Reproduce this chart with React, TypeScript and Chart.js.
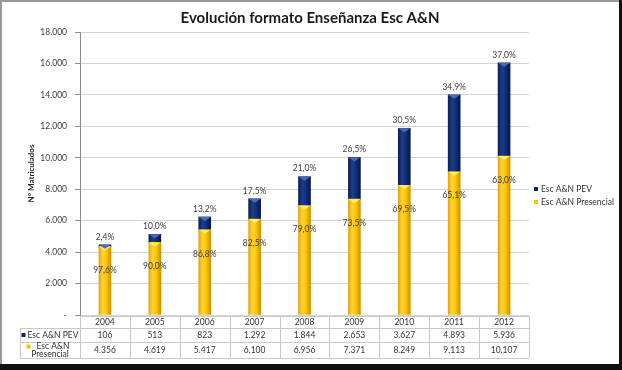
import React, { useEffect, useRef } from "react";
import { Chart, registerables } from "chart.js";

Chart.register(...registerables);

const chartTitle = "Evolución formato Enseñanza Esc A&N";
const yAxisTitle = "N° Matriculados";
const years = ["2004", "2005", "2006", "2007", "2008", "2009", "2010", "2011", "2012"];
const pevName = "Esc A&N PEV";
const presencialName = "Esc A&N Presencial";
const presencialTableLines = ["Esc A&N", "Presencial"];
const pevValues = [106, 513, 823, 1292, 1844, 2653, 3627, 4893, 5936];
const presencialValues = [4356, 4619, 5417, 6100, 6956, 7371, 8249, 9113, 10107];
const yMax = 18000;
const yStep = 2000;

const FONT = "Lato, 'Open Sans', sans-serif";

const fmt = (n: number) => String(n).replace(/\B(?=(\d{3})+(?!\d))/g, ".");
const pct = (v: number, total: number) => (v / total * 100).toFixed(1).replace(".", ",") + "%";

const YELLOW = "#F5C400";
const NAVY = "#0D2463";

function gradFor(kind: "y" | "n") {
  return (c: any) => {
    const chart = c.chart;
    const solid = kind === "y" ? YELLOW : NAVY;
    const xs = chart.scales && chart.scales.x;
    if (!xs || c.dataIndex === undefined || c.type !== "data") return solid;
    const x = xs.getPixelForValue(c.dataIndex);
    if (!Number.isFinite(x)) return solid;
    const g = chart.ctx.createLinearGradient(x - 6, 0, x + 6, 0);
    if (kind === "y") {
      g.addColorStop(0, "#E2A800");
      g.addColorStop(0.3, "#FFD23A");
      g.addColorStop(0.6, "#FFC800");
      g.addColorStop(1, "#C89200");
    } else {
      g.addColorStop(0, "#0A2060");
      g.addColorStop(0.35, "#1E3E88");
      g.addColorStop(0.65, "#112D74");
      g.addColorStop(1, "#06184A");
    }
    return g;
  };
}

const decorPlugin = {
  id: "decor",
  beforeDraw(chart: any) {
    const { ctx, width, height } = chart;
    ctx.save();
    ctx.fillStyle = "#ffffff";
    ctx.fillRect(0, 0, width, height);
    ctx.fillStyle = "#9a9a9a";
    ctx.fillRect(0, 0, width, 2);
    ctx.fillRect(0, 0, 2, height);
    ctx.fillStyle = "#111111";
    ctx.fillRect(width - 3, 0, 3, height);
    ctx.fillRect(0, height - 6, width, 6);
    ctx.restore();
  },
  afterDatasetsDraw(chart: any) {
    const { ctx } = chart;
    const metaP = chart.getDatasetMeta(0);
    const metaV = chart.getDatasetMeta(1);
    ctx.save();
    [metaP, metaV].forEach((meta: any, di: number) => {
      meta.data.forEach((el: any) => {
        const w = el.width;
        ctx.fillStyle = di === 0 ? "#FFEE66" : "#4D6CB0";
        ctx.beginPath();
        ctx.moveTo(el.x - w / 2, el.y);
        ctx.lineTo(el.x + w / 2, el.y);
        ctx.lineTo(el.x, el.y + 4);
        ctx.closePath();
        ctx.fill();
      });
    });
    ctx.font = `8.5px ${FONT}`;
    ctx.fillStyle = "#404040";
    ctx.textAlign = "center";
    ctx.textBaseline = "middle";
    years.forEach((_, i) => {
      const total = pevValues[i] + presencialValues[i];
      const elV = metaV.data[i];
      const elP = metaP.data[i];
      ctx.fillText(pct(pevValues[i], total), elV.x, elV.y - 8);
      ctx.fillText(pct(presencialValues[i], total), elP.x, elP.y + 24);
    });
    ctx.restore();
  },
  afterDraw(chart: any) {
    const { ctx, chartArea } = chart;
    const xs = chart.scales.x;
    ctx.save();
    ctx.font = `bold 15px ${FONT}`;
    ctx.fillStyle = "#1a1a1a";
    ctx.textAlign = "center";
    ctx.textBaseline = "middle";
    ctx.fillText(chartTitle, 310, 18);

    ctx.font = `8.5px ${FONT}`;
    ctx.textAlign = "left";
    ctx.fillStyle = NAVY;
    ctx.fillRect(534, 187, 4, 4);
    ctx.fillStyle = YELLOW;
    ctx.fillRect(534, 200, 4, 4);
    ctx.fillStyle = "#333333";
    ctx.fillText(pevName, 541, 189);
    ctx.fillText(presencialName, 541, 202);

    const n = years.length;
    const cw = (chartArea.right - chartArea.left) / n;
    const left0 = 20;
    const r0 = chartArea.bottom + 1;
    const r1 = r0 + 12;
    const r2 = r1 + 14;
    const r3 = r2 + 16;
    ctx.strokeStyle = "#c8c8c8";
    ctx.lineWidth = 1;
    ctx.beginPath();
    ctx.moveTo(chartArea.left, r0 + 0.5);
    ctx.lineTo(chartArea.right, r0 + 0.5);
    [r1, r2, r3].forEach((r) => {
      ctx.moveTo(left0, r + 0.5);
      ctx.lineTo(chartArea.right, r + 0.5);
    });
    ctx.moveTo(left0 + 0.5, r1);
    ctx.lineTo(left0 + 0.5, r3);
    for (let i = 0; i <= n; i++) {
      const x = Math.round(xs.getPixelForValue(i) - cw / 2) + 0.5;
      ctx.moveTo(x, r0);
      ctx.lineTo(x, r3);
    }
    ctx.stroke();

    ctx.fillStyle = "#333333";
    ctx.textAlign = "center";
    ctx.font = `8.5px ${FONT}`;
    years.forEach((yr, i) => {
      const x = xs.getPixelForValue(i);
      ctx.fillText(yr, x, (r0 + r1) / 2 + 0.5);
      ctx.fillText(fmt(pevValues[i]), x, (r1 + r2) / 2 + 0.5);
      ctx.fillText(fmt(presencialValues[i]), x, (r2 + r3) / 2 + 0.5);
    });

    const lc = (left0 + chartArea.left) / 2;
    const w1 = ctx.measureText(pevName).width;
    const sx = lc - (w1 + 6) / 2;
    ctx.fillStyle = NAVY;
    ctx.fillRect(sx, (r1 + r2) / 2 - 2, 4, 4);
    ctx.fillStyle = "#333333";
    ctx.textAlign = "left";
    ctx.fillText(pevName, sx + 6, (r1 + r2) / 2 + 0.5);
    const w2 = ctx.measureText(presencialTableLines[0]).width;
    const sx2 = lc - (w2 + 6) / 2 + 2;
    ctx.fillStyle = YELLOW;
    ctx.fillRect(sx2 - 6, r2 + 2.5, 4, 4);
    ctx.fillStyle = "#333333";
    ctx.textAlign = "center";
    ctx.fillText(presencialTableLines[0], lc + 3, r2 + 4.5);
    ctx.fillText(presencialTableLines[1], lc, r2 + 12.5);
    ctx.restore();
  },
};

export default function App() {
  const ref = useRef<HTMLCanvasElement>(null);
  useEffect(() => {
    if (!ref.current) return;
    const chart = new Chart(ref.current, {
      type: "bar",
      data: {
        labels: years,
        datasets: [
          {
            label: presencialName,
            data: presencialValues,
            backgroundColor: gradFor("y"),
            barThickness: 12,
            borderWidth: 0,
          },
          {
            label: pevName,
            data: pevValues,
            backgroundColor: gradFor("n"),
            barThickness: 12,
            borderWidth: 0,
          },
        ],
      },
      options: {
        responsive: false,
        animation: false,
        devicePixelRatio: 1,
        layout: { padding: { top: 32, right: 93, bottom: 55, left: 0 } },
        plugins: {
          legend: { display: false },
          title: { display: false },
          tooltip: { enabled: false },
        },
        scales: {
          x: {
            stacked: true,
            display: false,
          },
          y: {
            stacked: true,
            min: 0,
            max: yMax,
            afterFit: (s: any) => {
              s.width = 80;
            },
            ticks: {
              stepSize: yStep,
              padding: 8,
              color: "#404040",
              font: { family: FONT, size: 8.5 },
              callback: (v: any) => (Number(v) === 0 ? "-" : fmt(Number(v))),
            },
            grid: {
              color: "#d4d4d4",
              tickColor: "#8c8c8c",
              tickLength: 5,
            },
            border: { color: "#8c8c8c" },
            title: {
              display: true,
              text: yAxisTitle,
              color: "#222222",
              font: { family: FONT, size: 8, weight: "bold" },
              padding: { top: 27, bottom: 0 },
            },
          },
        },
      },
      plugins: [decorPlugin],
    });
    return () => chart.destroy();
  }, []);
  return (
    <div style={{ position: "fixed", left: 0, top: 0, width: 622, height: 370 }}>
      <canvas ref={ref} width={622} height={370} style={{ width: 622, height: 370, display: "block" }} />
    </div>
  );
}
